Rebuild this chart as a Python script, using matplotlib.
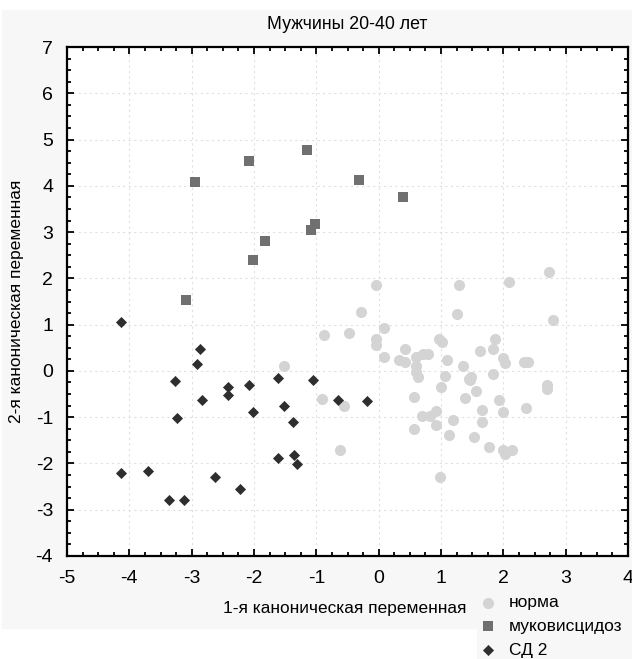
import numpy as np
import matplotlib.pyplot as plt
from matplotlib.patches import Rectangle
from matplotlib.ticker import MultipleLocator

plt.rcParams['font.family'] = ['Liberation Sans', 'DejaVu Sans']
plt.rcParams['axes.unicode_minus'] = False

# норма
norma_x = [-0.04, 1.29, -0.28, 1.26, -0.88, -0.48, 0.09, -0.04, -0.04, 0.09,
           0.42, 0.33, 0.42, 0.60, 0.71, 0.79, 0.60, 0.60, 0.63, 0.97,
           1.02, 1.10, 1.35, 1.06, 1.00, -1.52, -0.91, -0.56, 0.57, 0.70,
           0.82, 0.92, 0.92, 1.19, 0.57, 1.13, -0.62, 0.98, 1.45, 1.39,
           2.73, 2.09, 2.80, 1.87, 1.83, 1.63, 1.99, 2.03, 2.33, 2.40,
           1.48, 1.47, 1.83, 1.56, 2.70, 2.70, 1.93, 1.66, 1.99, 2.36,
           1.66, 1.53, 1.77, 1.99, 2.03, 2.14]
norma_y = [1.86, 1.86, 1.27, 1.23, 0.78, 0.82, 0.93, 0.69, 0.56, 0.30,
           0.47, 0.24, 0.19, 0.30, 0.37, 0.37, 0.11, -0.02, -0.13, 0.69,
           0.62, 0.24, 0.11, -0.11, -0.35, 0.11, -0.61, -0.76, -0.56, -0.97,
           -0.97, -0.87, -1.17, -1.06, -1.26, -1.39, -1.71, -2.29, -0.18, -0.59,
           2.14, 1.92, 1.10, 0.69, 0.47, 0.43, 0.28, 0.17, 0.19, 0.19,
           -0.13, -0.20, -0.07, -0.43, -0.30, -0.39, -0.63, -0.85, -0.89, -0.80,
           -1.10, -1.43, -1.64, -1.71, -1.80, -1.71]

# муковисцидоз
muko_x = [-2.95, -2.08, -1.15, -0.32, 0.39, -1.02, -1.09, -1.82, -2.02, -3.09]
muko_y = [4.08, 4.54, 4.77, 4.13, 3.76, 3.17, 3.05, 2.81, 2.40, 1.53]

# СД 2
sd_x = [-4.13, -2.87, -2.92, -3.27, -2.42, -2.42, -2.08, -2.83, -3.24, -1.61,
        -1.05, -1.52, -2.02, -1.37, -0.65, -0.19, -1.61, -1.36, -1.31, -4.13,
        -3.70, -2.63, -2.22, -3.36, -3.12]
sd_y = [1.06, 0.47, 0.15, -0.22, -0.35, -0.52, -0.30, -0.63, -1.02, -0.15,
        -0.20, -0.76, -0.89, -1.10, -0.63, -0.65, -1.88, -1.82, -2.01, -2.21,
        -2.16, -2.29, -2.55, -2.79, -2.79]

W, H = 632, 659
fig = plt.figure(figsize=(W / 100, H / 100), dpi=100, facecolor='white')
# light grey panels behind the chart and the legend
fig.patches.append(Rectangle((2 / W, 1 - 628 / H), 630 / W, 618 / H,
                             transform=fig.transFigure, color='#f7f7f7', zorder=-10))
fig.patches.append(Rectangle((477 / W, 0), 155 / W, 70 / H,
                             transform=fig.transFigure, color='#f7f7f7', zorder=-10))

ax = fig.add_axes([67 / W, 1 - 556 / H, 561 / W, 509 / H])
ax.set_facecolor('white')

ax.scatter(norma_x, norma_y, s=64, marker='o', color='#d4d4d4', linewidths=0,
           label='норма', zorder=3)
ax.scatter(muko_x, muko_y, s=62, marker='s', color='#707070', linewidths=0,
           label='муковисцидоз', zorder=3)
ax.scatter(sd_x, sd_y, s=32, marker='D', color='#2e2e2e', linewidths=0,
           label='СД 2', zorder=4)

ax.set_xlim(-5, 4)
ax.set_ylim(-4, 7)
ax.xaxis.set_major_locator(MultipleLocator(1))
ax.yaxis.set_major_locator(MultipleLocator(1))
ax.xaxis.set_minor_locator(MultipleLocator(0.25))
ax.yaxis.set_minor_locator(MultipleLocator(0.25))
ax.tick_params(which='both', direction='in', top=True, right=True,
               width=1.3, labelsize=14, color='black')
ax.tick_params(which='major', length=5, pad=10)
ax.tick_params(which='minor', length=3)
for sp in ax.spines.values():
    sp.set_linewidth(1.6)
ax.grid(True, which='major', linestyle=(0, (2, 3)), color='#e0e0e0', linewidth=0.8)
ax.set_axisbelow(True)

ax.set_title('Мужчины 20-40 лет', fontsize=12.8, pad=13)
ax.set_ylabel('2-я каноническая переменная', fontsize=12.4, labelpad=8)
fig.text(345 / W, 1 - 608 / H, '1-я каноническая переменная', fontsize=12.4,
         ha='center', va='center')

fig.legend(loc='upper left', bbox_to_anchor=(479 / W, 1 - 595 / H), frameon=False,
           fontsize=12.5, handletextpad=0.7, labelspacing=0.5, borderaxespad=0,
           borderpad=0, handlelength=1.0)

fig.savefig('out.png', dpi=100, facecolor=fig.get_facecolor())
